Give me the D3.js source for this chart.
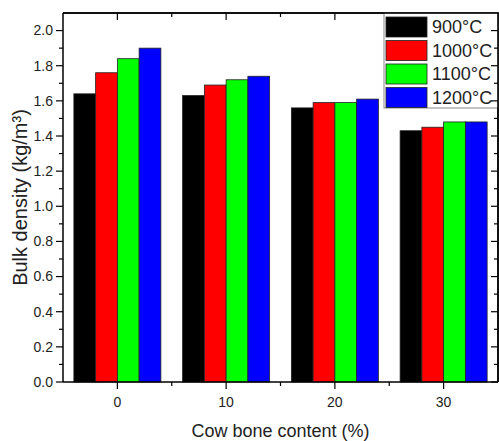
<!DOCTYPE html>
<html>
<head>
<meta charset="utf-8">
<script src="https://cdn.jsdelivr.net/npm/d3@7"></script>
<style>
  html, body { margin: 0; padding: 0; background: #fff; }
  svg { display: block; font-family: "Liberation Sans", Arial, sans-serif; }
</style>
</head>
<body>
<svg id="chart" width="499" height="441"></svg>
<script>
// Bone content groups and sintering temperatures
const categories = ["0", "10", "20", "30"];
const seriesNames = ["900°C", "1000°C", "1100°C", "1200°C"];
const seriesColors = ["#000000", "#ff0000", "#00ff00", "#0000ff"];
const values900 = [1.64, 1.63, 1.56, 1.43];
const values1000 = [1.76, 1.69, 1.59, 1.45];
const values1100 = [1.84, 1.72, 1.59, 1.48];
const values1200 = [1.90, 1.74, 1.61, 1.48];
const yTicks = [0.0, 0.2, 0.4, 0.6, 0.8, 1.0, 1.2, 1.4, 1.6, 1.8, 2.0];

const seriesValues = [values900, values1000, values1100, values1200];

const svg = d3.select("#chart");
const margin = { left: 63, right: 1, top: 13, bottom: 59 };
const W = 499, H = 441;
const plotW = W - margin.left - margin.right;
const plotH = H - margin.top - margin.bottom;

const g = svg.append("g").attr("transform", `translate(${margin.left},${margin.top})`);

const x0 = d3.scaleBand().domain(categories).range([0, plotW]).paddingInner(0.2).paddingOuter(0.1);
const x1 = d3.scaleBand().domain(seriesNames).range([0, x0.bandwidth()]);
const y = d3.scaleLinear().domain([0, 2.1]).range([plotH, 0]);

// Bars
const groups = g.selectAll("g.grp").data(categories).enter().append("g")
  .attr("transform", d => `translate(${x0(d)},0)`);
groups.each(function(cat, ci) {
  d3.select(this).selectAll("rect").data(seriesNames).enter().append("rect")
    .attr("x", s => x1(s))
    .attr("width", x1.bandwidth())
    .attr("y", (s, si) => y(seriesValues[si][ci]))
    .attr("height", (s, si) => plotH - y(seriesValues[si][ci]))
    .attr("fill", (s, si) => seriesColors[si])
    .attr("stroke", "#222")
    .attr("stroke-width", 0.8);
});

// Axes
const axisColor = "#000";
const labelColor = "#222";
const centers = categories.map(c => x0(c) + x0.bandwidth() / 2);
const step = x0.step();
const xMinor = centers.slice(0, -1).map(c => c + step / 2);

// bottom axis
const bottomAxis = g.append("g").attr("transform", `translate(0,${plotH})`);
bottomAxis.append("line").attr("x1", 0).attr("x2", plotW).attr("stroke", axisColor).attr("stroke-width", 1.5);
centers.forEach((cx, i) => {
  bottomAxis.append("line").attr("x1", cx).attr("x2", cx).attr("y1", 0).attr("y2", 7).attr("stroke", axisColor).attr("stroke-width", 1.2);
  bottomAxis.append("text").attr("x", cx).attr("y", 25).attr("text-anchor", "middle")
    .attr("font-size", 14).attr("fill", labelColor).text(categories[i]);
});
xMinor.forEach(mx => {
  bottomAxis.append("line").attr("x1", mx).attr("x2", mx).attr("y1", 0).attr("y2", 4).attr("stroke", axisColor).attr("stroke-width", 1.2);
});
// top axis (ticks inward)
const topAxis = g.append("g");
topAxis.append("line").attr("x1", 0).attr("x2", plotW).attr("stroke", axisColor).attr("stroke-width", 1.5);
centers.forEach(cx => topAxis.append("line").attr("x1", cx).attr("x2", cx).attr("y1", 0).attr("y2", 7).attr("stroke", axisColor).attr("stroke-width", 1.2));
xMinor.forEach(mx => topAxis.append("line").attr("x1", mx).attr("x2", mx).attr("y1", 0).attr("y2", 4).attr("stroke", axisColor).attr("stroke-width", 1.2));

// left axis
const yMinor = d3.range(0.1, 2.1, 0.2);
const leftAxis = g.append("g");
leftAxis.append("line").attr("y1", 0).attr("y2", plotH).attr("stroke", axisColor).attr("stroke-width", 1.5);
yTicks.forEach(v => {
  leftAxis.append("line").attr("x1", -7).attr("x2", 0).attr("y1", y(v)).attr("y2", y(v)).attr("stroke", axisColor).attr("stroke-width", 1.2);
  leftAxis.append("text").attr("x", -10).attr("y", y(v)).attr("dy", "0.35em").attr("text-anchor", "end")
    .attr("font-size", 14).attr("fill", labelColor).text(d3.format(".1f")(v));
});
yMinor.forEach(v => leftAxis.append("line").attr("x1", -4).attr("x2", 0).attr("y1", y(v)).attr("y2", y(v)).attr("stroke", axisColor).attr("stroke-width", 1.2));

// right axis (ticks inward)
const rightAxis = g.append("g").attr("transform", `translate(${plotW},0)`);
rightAxis.append("line").attr("y1", 0).attr("y2", plotH).attr("stroke", axisColor).attr("stroke-width", 1.5);
yTicks.forEach(v => rightAxis.append("line").attr("x1", -7).attr("x2", 0).attr("y1", y(v)).attr("y2", y(v)).attr("stroke", axisColor).attr("stroke-width", 1.2));
yMinor.forEach(v => rightAxis.append("line").attr("x1", -4).attr("x2", 0).attr("y1", y(v)).attr("y2", y(v)).attr("stroke", axisColor).attr("stroke-width", 1.2));

// Axis titles
svg.append("text").attr("x", margin.left + plotW / 2).attr("y", 437).attr("text-anchor", "middle")
  .attr("font-size", 18).attr("fill", labelColor).text("Cow bone content (%)");
svg.append("text").attr("transform", `translate(27,${margin.top + plotH / 2}) rotate(-90)`)
  .attr("text-anchor", "middle").attr("font-size", 20).attr("fill", labelColor)
  .text("Bulk density (kg/m³)");

// Legend
const legend = svg.append("g").attr("transform", "translate(384,13)");
legend.append("rect").attr("x", 0).attr("y", 0).attr("width", 114).attr("height", 95)
  .attr("fill", "#fff").attr("stroke", "#888").attr("stroke-width", 1);
seriesNames.forEach((name, i) => {
  const ry = 4 + i * 23.5;
  legend.append("rect").attr("x", 2).attr("y", ry).attr("width", 41).attr("height", 20)
    .attr("fill", seriesColors[i]).attr("stroke", "#222").attr("stroke-width", 0.8);
  legend.append("text").attr("x", 48).attr("y", ry + 10).attr("dy", "0.36em")
    .attr("font-size", 18).attr("fill", labelColor).text(name);
});
// right axis line and its upper ticks drawn above the legend
svg.append("line").attr("x1", margin.left + plotW).attr("x2", margin.left + plotW)
  .attr("y1", margin.top).attr("y2", margin.top + plotH).attr("stroke", axisColor).attr("stroke-width", 1.5);
[1.6, 1.8, 2.0].forEach(v => svg.append("line").attr("x1", margin.left + plotW - 7).attr("x2", margin.left + plotW)
  .attr("y1", margin.top + y(v)).attr("y2", margin.top + y(v)).attr("stroke", axisColor).attr("stroke-width", 1.2));
[1.7, 1.9].forEach(v => svg.append("line").attr("x1", margin.left + plotW - 4).attr("x2", margin.left + plotW)
  .attr("y1", margin.top + y(v)).attr("y2", margin.top + y(v)).attr("stroke", axisColor).attr("stroke-width", 1.2));
// top axis line above the legend box
svg.append("line").attr("x1", margin.left).attr("x2", W).attr("y1", margin.top).attr("y2", margin.top)
  .attr("stroke", axisColor).attr("stroke-width", 1.5);
</script>
</body>
</html>
